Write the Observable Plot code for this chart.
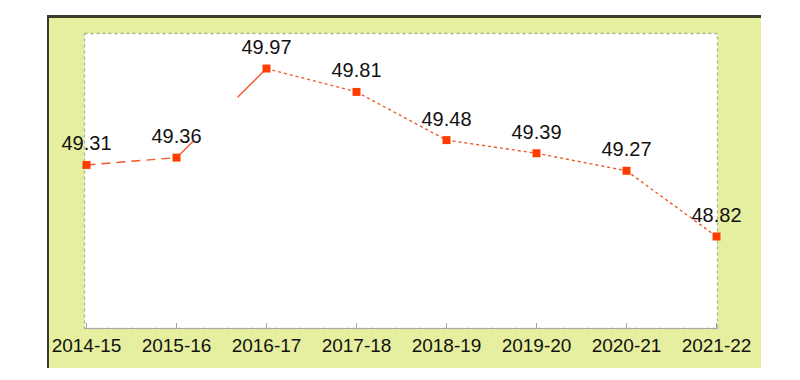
<!DOCTYPE html>
<html>
<head>
<meta charset="utf-8">
<script src="https://cdn.jsdelivr.net/npm/d3@7"></script>
<script src="https://cdn.jsdelivr.net/npm/@observablehq/plot@0.6"></script>
<style>
  html, body { margin: 0; padding: 0; background: #ffffff; }
  #wrap { position: relative; width: 800px; height: 380px; }
  #panel { position: absolute; left: 47px; top: 15px; width: 714px; height: 353px;
           background: #e6ef9f; border-top: 3px solid #3b3b2c; border-left: 2px solid #3b3b2c;
           box-sizing: border-box; }
  #chart { position: absolute; left: 0; top: 0; }
</style>
</head>
<body>
<div id="wrap"><div id="panel"></div><div id="chart"></div></div>
<script>
const categories = ["2014-15", "2015-16", "2016-17", "2017-18", "2018-19", "2019-20", "2020-21", "2021-22"];
const values = [49.31, 49.36, 49.97, 49.81, 49.48, 49.39, 49.27, 48.82];

const data = categories.map((c, i) => ({year: c, value: values[i]}));
const segs = data.slice(1).map((d, i) => ({i, x1: data[i].year, y1: data[i].value, x2: d.year, y2: d.value}));

const lineColor = "#f0582a";
const linkOpts = {x1: "x1", y1: "y1", x2: "x2", y2: "y2", stroke: lineColor, strokeWidth: 1.4};

const chart = Plot.plot({
  width: 800,
  height: 380,
  marginLeft: 84,
  marginRight: 83,
  marginTop: 33,
  marginBottom: 52,
  style: {background: "transparent", fontFamily: "'Liberation Sans', Arial, sans-serif", color: "#111"},
  x: {type: "point", domain: categories, padding: 0},
  y: {domain: [48.19, 50.21], axis: null},
  marks: [
    Plot.frame({fill: "white"}),
    Plot.frame({stroke: "#aeb395", strokeDasharray: "3,3", strokeWidth: 1.3}),
    Plot.frame({anchor: "bottom", stroke: "#a8a8a8"}),
    Plot.tickX(categories, {x: d => d, insetTop: 290, stroke: "#a0a0a0"}),
    Plot.link(segs.filter(s => s.i === 0), {...linkOpts, strokeDasharray: "9,6"}),
    Plot.link(segs.filter(s => s.i === 1), {...linkOpts, strokeDasharray: "24,62,60,0"}),
    Plot.link(segs.filter(s => s.i >= 2), {...linkOpts, strokeDasharray: "3,3"}),
    Plot.dot(data, {x: "year", y: "value", symbol: "square", r: 4.5, fill: "#ff3c00"}),
    Plot.text(data, {x: "year", y: "value", text: d => d.value.toFixed(2), dy: -21, fontSize: 20, fill: "#111"}),
    Plot.axisX({tickSize: 0, tickPadding: 10, fontSize: 19, fill: "#111"})
  ]
});
document.getElementById("chart").appendChild(chart);
</script>
</body>
</html>
